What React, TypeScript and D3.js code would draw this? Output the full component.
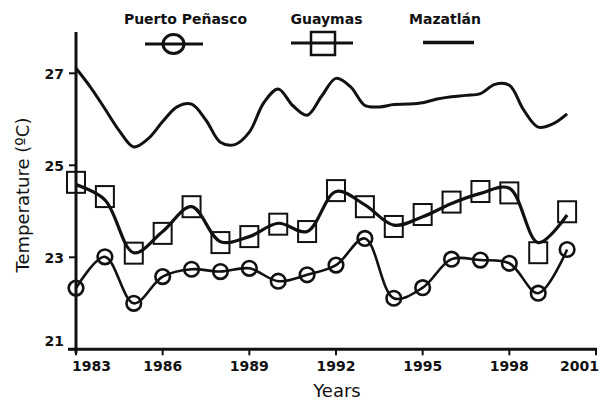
import * as d3 from "d3";

// yearly marker series
const years = [1983, 1984, 1985, 1986, 1987, 1988, 1989, 1990, 1991, 1992, 1993, 1994, 1995, 1996, 1997, 1998, 1999, 2000];
const puertoPenasco = [22.33, 23.01, 22.0, 22.58, 22.74, 22.69, 22.76, 22.48, 22.62, 22.83, 23.41, 22.11, 22.34, 22.96, 22.94, 22.87, 22.22, 23.17];
const guaymas = [24.63, 24.32, 23.09, 23.52, 24.1, 23.32, 23.45, 23.72, 23.56, 24.45, 24.1, 23.67, 23.93, 24.2, 24.43, 24.4, 23.1, 23.99];
// the Guaymas line does not sit exactly on its squares
const guaymasLine = [24.58, 24.25, 23.1, 23.56, 24.1, 23.34, 23.45, 23.74, 23.56, 24.43, 24.14, 23.7, 23.88, 24.17, 24.39, 24.5, 23.32, 23.92];

// Mazatlán is a plain line, read every half year
const mazatlanYears = [1983, 1983.5, 1984, 1984.5, 1985, 1985.5, 1986, 1986.5, 1987, 1987.5, 1988, 1988.5, 1989, 1989.5, 1990, 1990.5, 1991, 1991.5, 1992, 1992.5, 1993, 1993.5, 1994, 1994.5, 1995, 1995.5, 1996, 1996.5, 1997, 1997.5, 1998, 1998.5, 1999, 1999.5, 2000];
const mazatlan = [27.11, 26.7, 26.23, 25.75, 25.4, 25.58, 25.95, 26.27, 26.33, 25.98, 25.5, 25.45, 25.72, 26.36, 26.66, 26.3, 26.09, 26.5, 26.89, 26.71, 26.3, 26.27, 26.32, 26.33, 26.36, 26.44, 26.49, 26.52, 26.56, 26.76, 26.74, 26.2, 25.83, 25.9, 26.12];

const yTicks = [21, 23, 25, 27];
const xTicks = [1983, 1986, 1989, 1992, 1995, 1998, 2001];
const legendLabels = ["Puerto Peñasco", "Guaymas", "Mazatlán"];

const W = 607;
const H = 400;
const font = "'DejaVu Sans', Verdana, sans-serif";

export default function App() {
  const x = d3.scaleLinear().domain([1983, 2001]).range([76, 596]);
  const y = d3.scaleLinear().domain([21, 27]).range([349.3, 73.3]);

  const curve = d3.curveCatmullRom.alpha(0.5);
  const line = d3
    .line<[number, number]>()
    .x((d) => x(d[0]))
    .y((d) => y(d[1]))
    .curve(curve);

  const puertoPts = years.map((yr, i) => [yr, puertoPenasco[i]] as [number, number]);
  const guaymasPts = years.map((yr, i) => [yr, guaymasLine[i]] as [number, number]);
  const mazPts = mazatlanYears.map((yr, i) => [yr, mazatlan[i]] as [number, number]);

  const axisY0 = y(21);

  return (
    <svg width={W} height={H} style={{ position: "absolute", left: 0, top: 0, background: "#fff" }} fontFamily={font}>
      {/* legend */}
      <g fontWeight="bold" fontSize={14} textAnchor="middle" fill="#111">
        <text x={185.5} y={24}>{legendLabels[0]}</text>
        <text x={326.5} y={24}>{legendLabels[1]}</text>
        <text x={445} y={24}>{legendLabels[2]}</text>
      </g>
      <g stroke="#111" fill="none">
        <line x1={145} x2={203} y1={44} y2={44} strokeWidth={3} />
        <ellipse cx={173.5} cy={44} rx={10.5} ry={9.5} strokeWidth={3} />
        <line x1={291} x2={353} y1={43} y2={43} strokeWidth={3} />
        <rect x={311} y={32} width={24} height={23} strokeWidth={2.5} />
        <line x1={423} x2={474} y1={42.5} y2={42.5} strokeWidth={3.5} />
      </g>

      {/* axes */}
      <g stroke="#111" strokeWidth={3}>
        <line x1={x(1983)} x2={x(1983)} y1={32} y2={axisY0 + 4} />
        <line x1={x(1983) - 8} x2={x(2001) + 1} y1={axisY0} y2={axisY0} />
        {yTicks.map((t) => (
          <line key={t} x1={x(1983) - 7} x2={x(1983)} y1={y(t)} y2={y(t)} strokeWidth={2} />
        ))}
        {xTicks.map((t) => (
          <line key={t} x1={x(t)} x2={x(t)} y1={axisY0} y2={axisY0 + 6} strokeWidth={2} />
        ))}
      </g>
      <g fontSize={14} fontWeight="bold" fill="#111">
        {yTicks.map((t) => (
          <text key={t} x={64} y={y(t) + (t === 21 ? -7 : 2)} textAnchor="end" dominantBaseline="middle">
            {t}
          </text>
        ))}
        {xTicks.map((t, i) => (
          <text
            key={t}
            x={i === 0 ? x(t) - 4 : i === xTicks.length - 1 ? x(t) + 3 : x(t)}
            y={371}
            textAnchor={i === 0 ? "start" : i === xTicks.length - 1 ? "end" : "middle"}
          >
            {t}
          </text>
        ))}
      </g>
      <text x={337} y={397} textAnchor="middle" fontSize={18} fill="#111">
        Years
      </text>
      <text
        transform={`translate(24, 195) rotate(-90)`}
        textAnchor="middle"
        dominantBaseline="middle"
        fontSize={18}
        fill="#111"
      >
        Temperature (ºC)
      </text>

      {/* series */}
      <path d={line(mazPts) ?? ""} fill="none" stroke="#111" strokeWidth={3} strokeLinejoin="round" />
      <path d={line(guaymasPts) ?? ""} fill="none" stroke="#111" strokeWidth={3.2} strokeLinejoin="round" />
      <path d={line(puertoPts) ?? ""} fill="none" stroke="#111" strokeWidth={2.6} strokeLinejoin="round" />

      <g fill="none" stroke="#111" strokeWidth={2}>
        {years.map((yr, i) => (
          <rect key={yr} x={x(yr) - 9} y={y(guaymas[i]) - 10.5} width={18} height={21} />
        ))}
      </g>
      <g fill="none" stroke="#111" strokeWidth={2.6}>
        {years.map((yr, i) => (
          <circle key={yr} cx={x(yr)} cy={y(puertoPenasco[i])} r={7.3} />
        ))}
      </g>
    </svg>
  );
}
